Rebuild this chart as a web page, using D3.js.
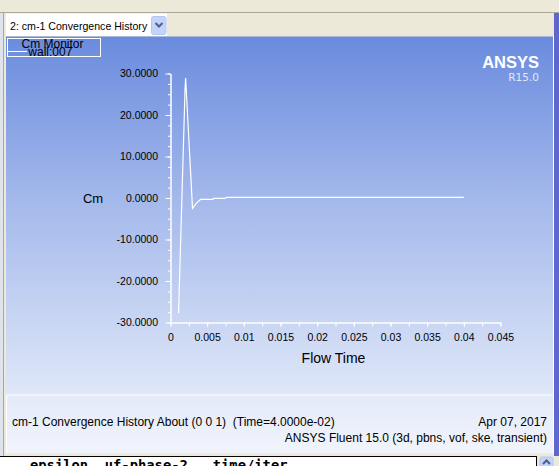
<!DOCTYPE html>
<html>
<head>
<meta charset="utf-8">
<script src="https://cdnjs.cloudflare.com/ajax/libs/d3/7.8.5/d3.min.js"></script>
<style>
body { margin: 0; background: #ece9d8; }
svg { display: block; }
text { white-space: pre; }
</style>
</head>
<body>
<div id="myDiv"></div>
<script>
// monitor data (flow time, Cm)
var flowTime = [0.0011, 0.00198, 0.00206, 0.0030, 0.0036, 0.0041, 0.00578, 0.0059, 0.00746, 0.0076, 0.0400];
var cmValues = [-27.8, 26.0, 28.9, -2.5, -1.1, -0.35, -0.35, -0.1, -0.1, 0.15, 0.15];

var xTicks = [0, 0.005, 0.01, 0.015, 0.02, 0.025, 0.03, 0.035, 0.04, 0.045];
var yTicks = [-30, -20, -10, 0, 10, 20, 30];

var windowTitle = "2: cm-1 Convergence History";
var legendTitle = "Cm Monitor";
var legendName = "wall:007";
var footerLeft = "cm-1 Convergence History About (0 0 1)  (Time=4.0000e-02)";
var footerDate = "Apr 07, 2017";
var footerVersion = "ANSYS Fluent 15.0 (3d, pbns, vof, ske, transient)";
var consoleLine = "epsilon  uf-phase-2   time/iter";

var W = 559, H = 466;
var font = "'Liberation Sans', Arial, sans-serif";

var svg = d3.select("#myDiv").append("svg")
    .attr("width", W)
    .attr("height", H);

var defs = svg.append("defs");
var grad = defs.append("linearGradient")
    .attr("id", "plotBg")
    .attr("x1", 0).attr("y1", 0).attr("x2", 0).attr("y2", 1);
grad.append("stop").attr("offset", "0%").attr("stop-color", "#6a8bde");
grad.append("stop").attr("offset", "45%").attr("stop-color", "#a3b8eb");
grad.append("stop").attr("offset", "100%").attr("stop-color", "#dfe7f8");

var grad2 = defs.append("linearGradient")
    .attr("id", "footBg")
    .attr("x1", 0).attr("y1", 0).attr("x2", 0).attr("y2", 1);
grad2.append("stop").attr("offset", "0%").attr("stop-color", "#e3eaf8");
grad2.append("stop").attr("offset", "100%").attr("stop-color", "#f1f4fc");

// window chrome
svg.append("rect").attr("width", W).attr("height", H).attr("fill", "#ece9d8");
svg.append("line").attr("x1", 0).attr("x2", W).attr("y1", 12.5).attr("y2", 12.5).attr("stroke", "#aca899");
svg.append("rect").attr("x", 0).attr("y", 13).attr("width", 3.5).attr("height", 443).attr("fill", "#dfe3ec");
svg.append("line").attr("x1", 3.5).attr("x2", 3.5).attr("y1", 13).attr("y2", 456).attr("stroke", "#aca899");

// drop down
svg.append("rect").attr("x", 6).attr("y", 13.5).attr("width", 161).attr("height", 22.5).attr("fill", "#fff");
svg.append("text").attr("x", 10).attr("y", 30)
    .attr("font-family", font).attr("font-size", 10.6).attr("fill", "#000")
    .text(windowTitle);
svg.append("rect").attr("x", 151.5).attr("y", 16.5).attr("width", 14.5).attr("height", 18)
    .attr("rx", 2).attr("fill", "#c3d4fb").attr("stroke", "#b2c6f4");
svg.append("path").attr("d", "M155.5,23 L159,26.5 L162.5,23")
    .attr("fill", "none").attr("stroke", "#4d5f8a").attr("stroke-width", 2);

// plot panel
svg.append("rect").attr("x", 6).attr("y", 36.5).attr("width", 547.5).attr("height", 358.5).attr("fill", "url(#plotBg)");
svg.append("rect").attr("x", 6).attr("y", 395).attr("width", 547.5).attr("height", 58.5).attr("fill", "url(#footBg)");
svg.append("line").attr("x1", 6.5).attr("x2", 553).attr("y1", 395).attr("y2", 395).attr("stroke", "#fff");
svg.append("line").attr("x1", 6.5).attr("x2", 6.5).attr("y1", 395).attr("y2", 453).attr("stroke", "#fff");
svg.append("line").attr("x1", 553.5).attr("x2", 553.5).attr("y1", 36).attr("y2", 454).attr("stroke", "#fff");
svg.append("rect").attr("x", 554).attr("y", 13).attr("width", 5).attr("height", 443).attr("fill", "#5f66cf");

// legend
svg.append("rect").attr("x", 7.5).attr("y", 38.5).attr("width", 93).attr("height", 18)
    .attr("fill", "none").attr("stroke", "#fff");
svg.append("line").attr("x1", 8).attr("x2", 27).attr("y1", 51.5).attr("y2", 51.5).attr("stroke", "#fff");
svg.append("text").attr("x", 21.5).attr("y", 48)
    .attr("font-family", font).attr("font-size", 12).attr("fill", "#000").text(legendTitle);
svg.append("text").attr("x", 28.3).attr("y", 56)
    .attr("font-family", font).attr("font-size", 12).attr("fill", "#000").text(legendName);

// logo
svg.append("text").attr("x", 539).attr("y", 68.3).attr("text-anchor", "end")
    .attr("font-family", font).attr("font-weight", "bold").attr("font-size", 16.5)
    .attr("fill", "#fff").text("ANSYS");
svg.append("text").attr("x", 539).attr("y", 80.7).attr("text-anchor", "end")
    .attr("font-family", "'DejaVu Sans', sans-serif").attr("font-size", 10.5)
    .attr("fill", "#e2e8f8").text("R15.0");

// scales + axes
var x = d3.scaleLinear().domain([0, 0.045]).range([170.5, 500.5]);
var y = d3.scaleLinear().domain([-30, 30]).range([322.5, 73.5]);

var xMinor = d3.range(0, 0.0451, 0.0025);
var yMinor = d3.range(-30, 30.1, 2.5);

var gx = svg.append("g").attr("transform", "translate(0," + y(-30) + ")");
gx.call(d3.axisBottom(x).tickValues(xMinor).tickSize(4).tickSizeOuter(0).tickFormat(""));
gx.append("g").call(d3.axisBottom(x).tickValues(xTicks).tickSize(4).tickSizeOuter(0).tickPadding(7)
    .tickFormat(d3.format("~g")));

var gy = svg.append("g").attr("transform", "translate(" + x(0) + ",0)");
gy.call(d3.axisLeft(y).tickValues(yMinor).tickSize(2.5).tickSizeOuter(0).tickFormat(""));
gy.append("g").call(d3.axisLeft(y).tickValues(yTicks).tickSize(5).tickSizeOuter(0).tickPadding(7.5)
    .tickFormat(function(d) { return d.toFixed(4); }));

svg.selectAll(".domain, .tick line").attr("stroke", "#fff");
svg.selectAll(".tick text").attr("fill", "#000").attr("font-family", font).attr("font-size", 10.5);

svg.append("text").attr("x", 333.5).attr("y", 363).attr("text-anchor", "middle")
    .attr("font-family", font).attr("font-size", 14).attr("fill", "#000").text("Flow Time");
svg.append("text").attr("x", 93).attr("y", 203).attr("text-anchor", "middle")
    .attr("font-family", font).attr("font-size", 13).attr("fill", "#000").text("Cm");

// monitor line
var pts = flowTime.map(function(t, i) { return [t, cmValues[i]]; });
var line = d3.line()
    .x(function(d) { return x(d[0]); })
    .y(function(d) { return y(d[1]); });
svg.append("path").datum(pts)
    .attr("d", line)
    .attr("fill", "none")
    .attr("stroke", "#fff")
    .attr("stroke-width", 1.2);

// footer
svg.append("text").attr("x", 12).attr("y", 426)
    .attr("font-family", font).attr("font-size", 12).attr("fill", "#000").text(footerLeft);
svg.append("text").attr("x", 547).attr("y", 426).attr("text-anchor", "end")
    .attr("font-family", font).attr("font-size", 12).attr("fill", "#000").text(footerDate);
svg.append("text").attr("x", 547).attr("y", 442).attr("text-anchor", "end")
    .attr("font-family", font).attr("font-size", 12).attr("fill", "#000").text(footerVersion);

// console strip
svg.append("rect").attr("x", 0).attr("y", 456).attr("width", 537).attr("height", 10).attr("fill", "#fff");
svg.append("line").attr("x1", 0).attr("x2", 537).attr("y1", 456.5).attr("y2", 456.5).attr("stroke", "#000");
svg.append("line").attr("x1", 536.5).attr("x2", 536.5).attr("y1", 456).attr("y2", 466).attr("stroke", "#000");
svg.append("rect").attr("x", 540).attr("y", 457).attr("width", 13).attr("height", 12)
    .attr("rx", 2).attr("fill", "#c3d4fb").attr("stroke", "#b2c6f4");
svg.append("path").attr("d", "M543,464 L546.5,460.5 L550,464")
    .attr("fill", "none").attr("stroke", "#4d5f8a").attr("stroke-width", 2);
svg.append("text").attr("x", 30).attr("y", 470)
    .attr("font-family", "'DejaVu Sans Mono', monospace").attr("font-weight", "bold")
    .attr("font-size", 13.8).attr("fill", "#000").text(consoleLine);
</script>
</body>
</html>
